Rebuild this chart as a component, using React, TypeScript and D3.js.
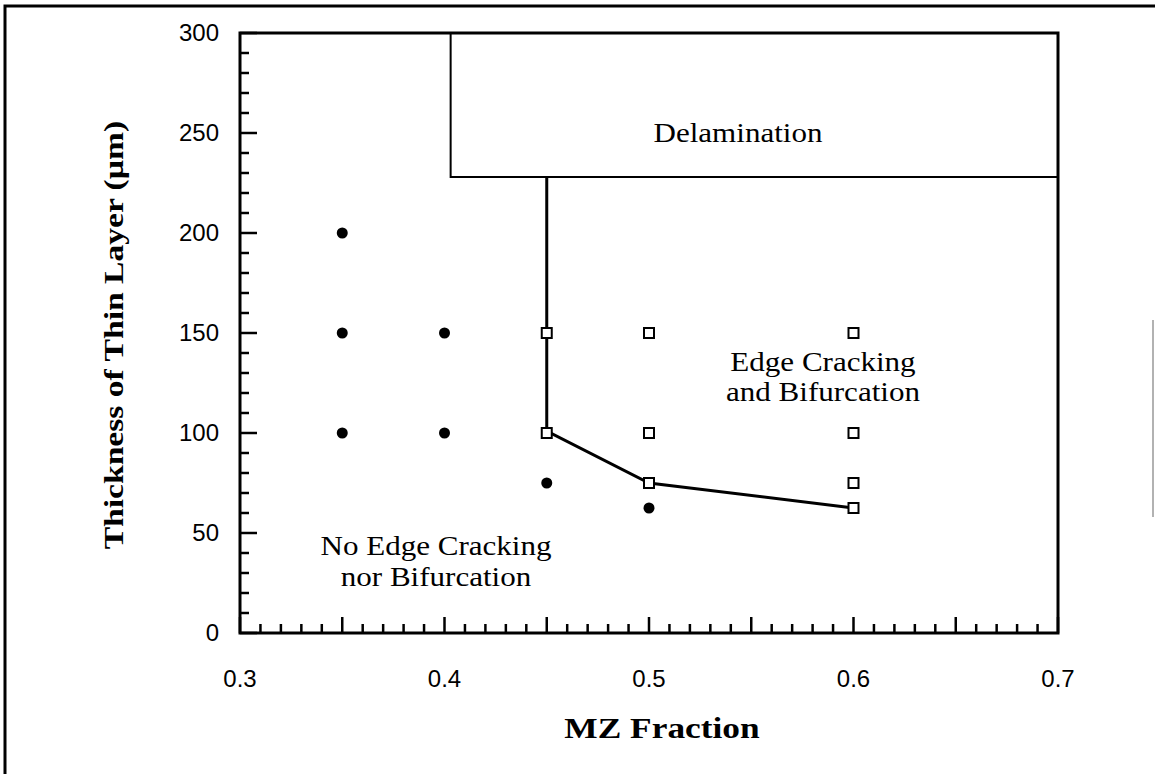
import { useEffect, useRef } from 'react';
import * as d3 from 'd3';

// ticks
const xTickValues = [0.3, 0.4, 0.5, 0.6, 0.7];
const yTickValues = [0, 50, 100, 150, 200, 250, 300];

// filled circles: no edge cracking nor bifurcation
const noCrackX = [0.35, 0.35, 0.35, 0.4, 0.4, 0.45, 0.5];
const noCrackY = [200, 150, 100, 150, 100, 75, 62.5];

// open squares: edge cracking and bifurcation
const crackX = [0.45, 0.45, 0.5, 0.5, 0.5, 0.6, 0.6, 0.6, 0.6];
const crackY = [150, 100, 150, 100, 75, 150, 100, 75, 62.5];

// boundary line between the two regions
const boundaryX = [0.45, 0.45, 0.5, 0.6];
const boundaryY = [228, 101, 75, 62.5];

// delamination region (lower left corner)
const delamX = 0.403;
const delamY = 228;

const W = 1155;
const H = 774;

export default function App() {
  const svgRef = useRef<SVGSVGElement>(null);

  useEffect(() => {
    if (!svgRef.current) return;
    const svg = d3.select(svgRef.current);
    svg.selectAll('*').remove();

    const x = d3.scaleLinear().domain([0.3, 0.7]).range([240, 1058]);
    const y = d3.scaleLinear().domain([0, 300]).range([633, 33]);

    const serif = '"Liberation Serif", "Times New Roman", serif';
    const sans = '"Liberation Sans", Arial, sans-serif';

    svg.append('rect').attr('width', W).attr('height', H).attr('fill', '#fff');

    // outer page frame (top & left only, like the scan)
    svg.append('path')
      .attr('d', `M5,${H} L5,6 L${W},6`)
      .attr('fill', 'none')
      .attr('stroke', '#000')
      .attr('stroke-width', 3);
    svg.append('line')
      .attr('x1', 1153).attr('x2', 1153).attr('y1', 320).attr('y2', 517)
      .attr('stroke', '#999').attr('stroke-width', 1.5);

    const g = svg.append('g');

    // delamination box
    g.append('path')
      .attr('d', `M${x(delamX)},${y(300)} L${x(delamX)},${y(delamY)} L${x(0.7)},${y(delamY)}`)
      .attr('fill', 'none')
      .attr('stroke', '#000')
      .attr('stroke-width', 2);

    // ticks (inward)
    const yMinor = d3.range(0, 301, 10);
    g.selectAll('.ytick')
      .data(yMinor)
      .enter()
      .append('line')
      .attr('x1', x(0.3))
      .attr('x2', d => x(0.3) + (d % 50 === 0 ? 17 : 9))
      .attr('y1', d => y(d))
      .attr('y2', d => y(d))
      .attr('stroke', '#000')
      .attr('stroke-width', 2.5);

    const xMinor = d3.range(30, 71).map(d => d / 100);
    g.selectAll('.xtick')
      .data(xMinor)
      .enter()
      .append('line')
      .attr('x1', d => x(d))
      .attr('x2', d => x(d))
      .attr('y1', y(0))
      .attr('y2', (d, i) => y(0) - (i % 5 === 0 ? 16 : 9))
      .attr('stroke', '#000')
      .attr('stroke-width', 2.5);

    // axes frame
    g.append('rect')
      .attr('x', x(0.3))
      .attr('y', y(300))
      .attr('width', x(0.7) - x(0.3))
      .attr('height', y(0) - y(300))
      .attr('fill', 'none')
      .attr('stroke', '#000')
      .attr('stroke-width', 3);

    // tick labels
    g.selectAll('.ylab')
      .data(yTickValues)
      .enter()
      .append('text')
      .attr('x', 219)
      .attr('y', d => y(d) + 8)
      .attr('text-anchor', 'end')
      .attr('font-family', sans)
      .attr('font-size', 24)
      .text(d => d3.format('d')(d));

    g.selectAll('.xlab')
      .data(xTickValues)
      .enter()
      .append('text')
      .attr('x', d => x(d))
      .attr('y', 687)
      .attr('text-anchor', 'middle')
      .attr('font-family', sans)
      .attr('font-size', 24)
      .text(d => d3.format('.1f')(d));

    // boundary
    const line = d3.line<number>()
      .x(d => x(boundaryX[d]))
      .y(d => y(boundaryY[d]));
    g.append('path')
      .attr('d', line(d3.range(boundaryX.length)))
      .attr('fill', 'none')
      .attr('stroke', '#000')
      .attr('stroke-width', 3);

    // points
    g.selectAll('.dot')
      .data(d3.range(noCrackX.length))
      .enter()
      .append('circle')
      .attr('cx', i => x(noCrackX[i]))
      .attr('cy', i => y(noCrackY[i]))
      .attr('r', 5.5)
      .attr('fill', '#000');

    g.selectAll('.sq')
      .data(d3.range(crackX.length))
      .enter()
      .append('rect')
      .attr('x', i => x(crackX[i]) - 5)
      .attr('y', i => y(crackY[i]) - 5)
      .attr('width', 10)
      .attr('height', 10)
      .attr('fill', '#fff')
      .attr('stroke', '#000')
      .attr('stroke-width', 2);

    // region labels (scan is a bit wide, so stretch horizontally)
    const label = (txt: string, cx: number, by: number) => {
      g.append('text')
        .attr('transform', `translate(${cx},${by}) scale(1.15,1)`)
        .attr('text-anchor', 'middle')
        .attr('font-family', serif)
        .attr('font-size', 27)
        .text(txt);
    };
    label('Delamination', 738, 142);
    label('Edge Cracking', 823, 371);
    label('and Bifurcation', 823, 401);
    label('No Edge Cracking', 436, 555);
    label('nor Bifurcation', 436, 586);

    // axis titles
    svg.append('text')
      .attr('transform', `translate(662,738) scale(1.22,1)`)
      .attr('text-anchor', 'middle')
      .attr('font-family', serif)
      .attr('font-weight', 'bold')
      .attr('font-size', 29)
      .text('MZ Fraction');

    svg.append('text')
      .attr('transform', `translate(123,335) rotate(-90) scale(1.2,1)`)
      .attr('text-anchor', 'middle')
      .attr('font-family', serif)
      .attr('font-weight', 'bold')
      .attr('font-size', 28)
      .text('Thickness of Thin Layer (\u00b5m)');
  }, []);

  return (
    <svg
      ref={svgRef}
      width={W}
      height={H}
      style={{ position: 'absolute', left: 0, top: 0, display: 'block' }}
    />
  );
}
